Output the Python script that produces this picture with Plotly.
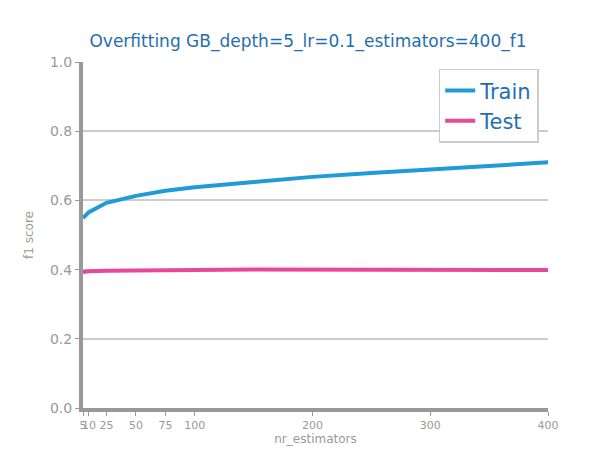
import plotly.graph_objects as go

nr_estimators = [5, 10, 25, 50, 75, 100, 150, 200, 250, 300, 350, 400]
train_f1 = [0.549, 0.566, 0.593, 0.613, 0.628, 0.638, 0.653, 0.668, 0.679, 0.690, 0.700, 0.710]
test_f1 = [0.393, 0.395, 0.397, 0.397, 0.398, 0.399, 0.400, 0.400, 0.400, 0.400, 0.399, 0.399]
x_ticks = [5, 10, 25, 50, 75, 100, 200, 300, 400]

fig = go.Figure()
fig.add_trace(go.Scatter(x=nr_estimators, y=train_f1, mode='lines', name='Train',
                         line=dict(color='#1f9bd7', width=4)))
fig.add_trace(go.Scatter(x=nr_estimators, y=test_f1, mode='lines', name='Test',
                         line=dict(color='#e8489a', width=4)))

fig.update_layout(
    font_family='DejaVu Sans',
    title=dict(text='Overfitting GB_depth=5_lr=0.1_estimators=400_f1', x=0.5, xanchor='center',
               y=0.94, font=dict(color='#1f6fb0', size=17)),
    xaxis=dict(title=dict(text='nr_estimators', font=dict(size=12, color='#999999'), standoff=4),
               range=[5, 400], tickvals=x_ticks, tickangle=0, tickfont=dict(size=11, color='#999999'),
               showgrid=False, zeroline=False, showline=True, linewidth=4, linecolor='#999999',
               ticks='outside', ticklen=4, tickcolor='#999999'),
    yaxis=dict(title=dict(text='f1 score', font=dict(size=12, color='#999999')),
               range=[0, 1.0], dtick=0.2, tickformat='.1f', tickfont=dict(size=14, color='#999999'),
               showgrid=True, gridcolor='#cccccc', gridwidth=1.5, zeroline=False,
               showline=True, linewidth=4, linecolor='#999999',
               ticks='outside', ticklen=4, tickcolor='#999999'),
    legend=dict(x=0.98, y=0.98, xanchor='right', yanchor='top', bordercolor='#cccccc',
                borderwidth=1.5, font=dict(size=21, color='#1f6fb0'), bgcolor='white'),
    plot_bgcolor='white', paper_bgcolor='white',
    margin=dict(l=75, r=60, t=54, b=50),
    width=600, height=450,
)

fig.write_html("out.html")
